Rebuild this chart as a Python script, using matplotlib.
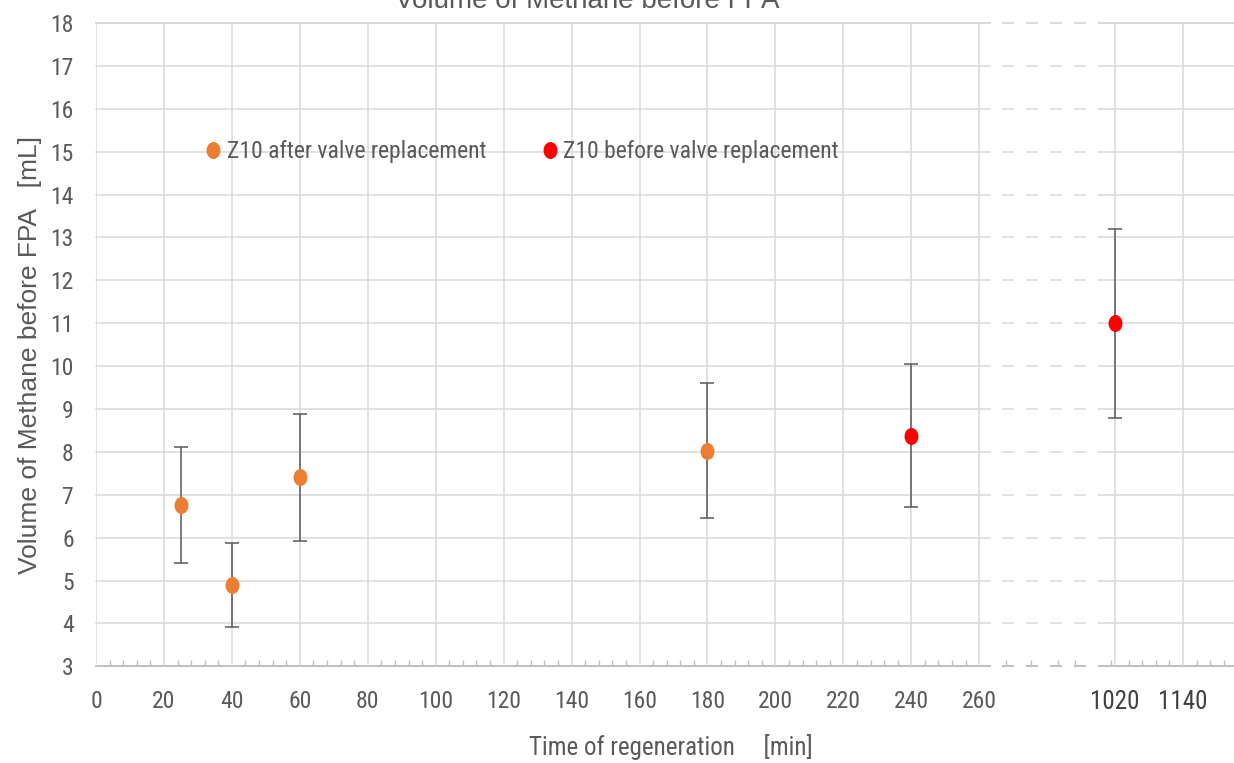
import numpy as np
import matplotlib
matplotlib.use("Agg")
import matplotlib.pyplot as plt
from matplotlib.markers import MarkerStyle
from matplotlib.transforms import Affine2D

plt.rcParams["lines.scale_dashes"] = False

NARROW = ["Liberation Sans Narrow", "Roboto Condensed", "Noto Sans Condensed",
          "Arial Narrow", "Roboto", "DejaVu Sans"]
REGULAR = ["Liberation Sans", "DejaVu Sans"]

# Z10 after valve replacement
after_time = [25, 40, 60, 180]
after_vol = [6.76, 4.89, 7.41, 8.03]
after_err = [1.35, 0.98, 1.48, 1.58]

# Z10 before valve replacement
before_time = [240, 1020]
before_vol = [8.38, 11.0]
before_err = [1.67, 2.2]

x_ticks = [0, 20, 40, 60, 80, 100, 120, 140, 160, 180, 200, 220, 240, 260, 1020, 1140]
y_ticks = list(range(3, 19))


# broken time axis: 0-260 linear, 260-1020 squeezed, 1020+ at 1/6 scale
def fwd(x):
    x = np.asarray(x, dtype=float)
    return np.where(x <= 260, x,
                    np.where(x < 1020, 260 + (x - 260) * 40 / 760,
                             300 + (x - 1020) / 6))


def inv(p):
    p = np.asarray(p, dtype=float)
    return np.where(p <= 260, p,
                    np.where(p < 300, 260 + (p - 260) * 760 / 40,
                             1020 + (p - 300) * 6))


GRID = "#d9d9d9"
AXIS = "#bfbfbf"
TEXT = "#595959"

fig = plt.figure(figsize=(12.34, 7.63), dpi=100)
ax = fig.add_axes([96 / 1234, 1 - 666.3 / 763, 1138 / 1234, 643.3 / 763])
ax.set_xscale("function", functions=(fwd, inv))
ax.set_xlim(0, 1230)
ax.set_ylim(3, 18)

for s in ax.spines.values():
    s.set_visible(False)

ax.set_xticks(x_ticks)
ax.set_xticklabels([str(t) for t in x_ticks])
minor = [m for m in range(4, 260, 4) if m % 20] + [408, 548, 701, 796] + \
        [996, 1044, 1068, 1092, 1116, 1164, 1188, 1212]
ax.set_xticks(minor, minor=True)
ax.set_yticks(y_ticks)

ax.tick_params(axis="x", which="major", length=0, pad=17, labelsize=17, labelcolor=TEXT)
ax.tick_params(axis="x", which="minor", direction="in", length=4, width=1, color=AXIS)
ax.tick_params(axis="y", length=0, pad=16, labelsize=17, labelcolor=TEXT)
for lab in ax.get_xticklabels() + ax.get_yticklabels():
    lab.set_family(NARROW)
for lab in ax.get_xticklabels()[-2:]:
    lab.set_color("#404040")
    lab.set_fontsize(18)

ax.grid(axis="x", color=GRID, linewidth=1.1)
ax.set_axisbelow(True)

# horizontal grid and axis line, dashed across the break
gap0, gap1 = (990 - 96) / 1138, (1099 - 96) / 1138
ytr = ax.get_yaxis_transform()
for y in y_ticks:
    c = AXIS if y == 3 else GRID
    lw = 1.4 if y in (3, 18) else 1.1
    ax.plot([0, gap0], [y, y], color=c, lw=lw, transform=ytr, clip_on=False, zorder=0.5)
    ax.plot([gap0, gap1], [y, y], color=c, lw=lw, transform=ytr, clip_on=False,
            linestyle=(8.64, (8.64, 8.64)), zorder=0.5)
    ax.plot([gap1, 1], [y, y], color=c, lw=lw, transform=ytr, clip_on=False, zorder=0.5)

marker = MarkerStyle("o", transform=Affine2D().scale(0.9, 1.12))

ax.errorbar(after_time, after_vol, yerr=after_err, fmt="none", ecolor=TEXT,
            elinewidth=1.1, capsize=5, capthick=1.1, zorder=2)
ax.errorbar(before_time, before_vol, yerr=before_err, fmt="none", ecolor=TEXT,
            elinewidth=1.1, capsize=5, capthick=1.1, zorder=2)
ax.plot(after_time, after_vol, linestyle="none", marker=marker, markersize=10,
        color="#ed7d31", label="Z10 after valve replacement", zorder=3)
ax.plot(before_time, before_vol, linestyle="none", marker=marker, markersize=10,
        color="#ff0000", label="Z10 before valve replacement", zorder=3)

leg = ax.legend(loc="center left", bbox_to_anchor=(0.097, 0.7995), ncol=2,
                frameon=False, handlelength=0.6, handletextpad=0.26,
                columnspacing=2.4, borderpad=0, borderaxespad=0,
                prop={"family": NARROW, "size": 17})
for t in leg.get_texts():
    t.set_color(TEXT)

ax.set_xlabel("Time of regeneration     [min]", fontsize=18, color=TEXT, family=NARROW)
ax.xaxis.set_label_coords(0.505, -0.1255)
ax.xaxis.label.set_va("center")
ax.set_ylabel("Volume of Methane before FPA   [mL]", fontsize=19, color=TEXT, family=REGULAR)
ax.yaxis.set_label_coords(-0.058, 0.484)
ax.yaxis.label.set_va("center")

fig.text(0.476, 1 - 8 / 763, "Volume of Methane before FPA", ha="center", va="baseline",
         fontsize=20, color=TEXT, family=REGULAR)

fig.savefig("out.png", dpi=100)
